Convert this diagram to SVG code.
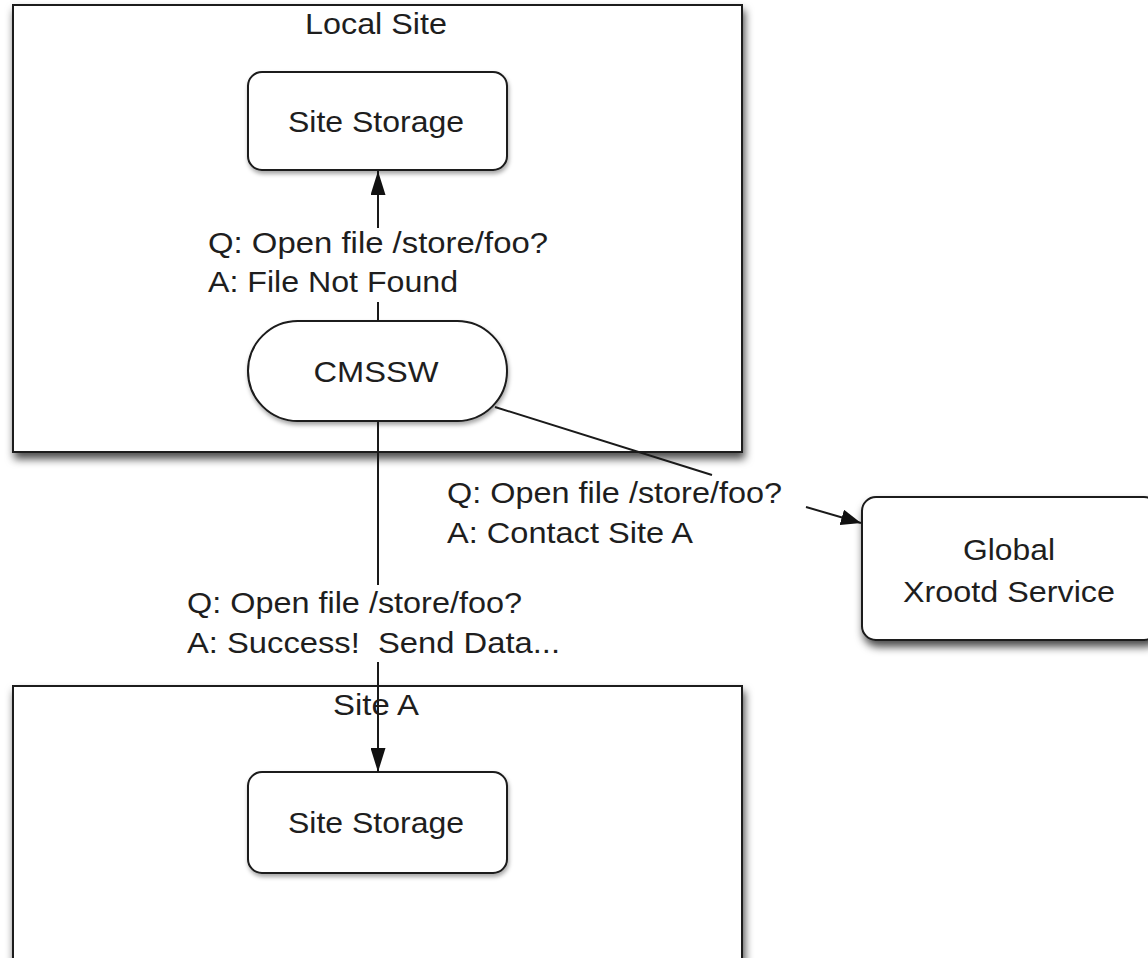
<svg xmlns="http://www.w3.org/2000/svg" width="1148" height="958" viewBox="0 0 1148 958">
<style>
.t{font-family:"Liberation Sans",Arial,Helvetica,sans-serif;font-size:30px;fill:#1e1e1e;white-space:pre}
.c{text-anchor:middle}
.box{fill:#fff;stroke:#1a1a1a;stroke-width:2}
.node{fill:#fff;stroke:#1a1a1a;stroke-width:2}
.edge{fill:none;stroke:#1a1a1a;stroke-width:2}
</style>
<defs>
<filter id="sh" x="-10%" y="-10%" width="130%" height="130%">
<feDropShadow dx="2" dy="6" stdDeviation="4" flood-color="#000" flood-opacity="0.7"/>
</filter>
<filter id="shs" x="-10%" y="-10%" width="130%" height="130%">
<feDropShadow dx="1" dy="3" stdDeviation="2" flood-color="#000" flood-opacity="0.35"/>
</filter>
<marker id="arr" markerWidth="20" markerHeight="16" refX="20" refY="8" orient="auto" markerUnits="userSpaceOnUse">
<path d="M0,0 L20,8 L0,16 Z" fill="#111"/>
</marker>
<marker id="arrV" markerWidth="24" markerHeight="15" refX="24" refY="7.5" orient="auto" markerUnits="userSpaceOnUse">
<path d="M0,0 L24,7.5 L0,15 Z" fill="#111"/>
</marker>
</defs>
<rect width="1148" height="958" fill="#fff"/>

<g id="local-site">
<rect class="box" x="13" y="5" width="729" height="447" filter="url(#sh)"/>
<text class="t c" x="376" y="34" textLength="142" lengthAdjust="spacingAndGlyphs">Local Site</text>
</g>

<g id="site-a">
<rect class="box" x="13" y="686" width="729" height="300" filter="url(#sh)"/>
<text class="t c" x="376" y="715" textLength="86" lengthAdjust="spacingAndGlyphs">Site A</text>
</g>

<g id="local-storage">
<rect class="node" x="248" y="72" width="259" height="98" rx="14" filter="url(#shs)"/>
<text class="t c" x="376" y="132" textLength="176" lengthAdjust="spacingAndGlyphs">Site Storage</text>
</g>

<g id="cmssw">
<rect class="node" x="248" y="321" width="259" height="100" rx="50" filter="url(#shs)"/>
<text class="t c" x="376" y="382" textLength="125" lengthAdjust="spacingAndGlyphs">CMSSW</text>
</g>

<g id="sitea-storage">
<rect class="node" x="248" y="772" width="259" height="101" rx="14" filter="url(#shs)"/>
<text class="t c" x="376" y="833" textLength="176" lengthAdjust="spacingAndGlyphs">Site Storage</text>
</g>

<g id="global-xrootd">
<rect class="node" x="862" y="497" width="296" height="143" rx="14" filter="url(#sh)"/>
<text class="t c" x="1009" y="560" textLength="92" lengthAdjust="spacingAndGlyphs">Global</text>
<text class="t c" x="1009" y="602" textLength="212" lengthAdjust="spacingAndGlyphs">Xrootd Service</text>
</g>

<g id="connectors">
<path class="edge" d="M378,321 L378,302 M378,228 L378,171" marker-end="url(#arrV)"/>
<path class="edge" d="M378,421 L378,585 M378,662 L378,772" marker-end="url(#arrV)"/>
<path class="edge" d="M495,407 L712,475 M806,507 L861,523" marker-end="url(#arr)"/>
<text class="t" x="208" y="253" textLength="340" lengthAdjust="spacingAndGlyphs">Q: Open file /store/foo?</text>
<text class="t" x="208" y="292" textLength="250" lengthAdjust="spacingAndGlyphs">A: File Not Found</text>
<text class="t" x="447" y="503" textLength="335" lengthAdjust="spacingAndGlyphs">Q: Open file /store/foo?</text>
<text class="t" x="447" y="543" textLength="246" lengthAdjust="spacingAndGlyphs">A: Contact Site A</text>
<text class="t" x="187" y="613" textLength="335" lengthAdjust="spacingAndGlyphs">Q: Open file /store/foo?</text>
<text class="t" x="187" y="653" textLength="373" lengthAdjust="spacingAndGlyphs">A: Success!  Send Data...</text>
</g>
</svg>
